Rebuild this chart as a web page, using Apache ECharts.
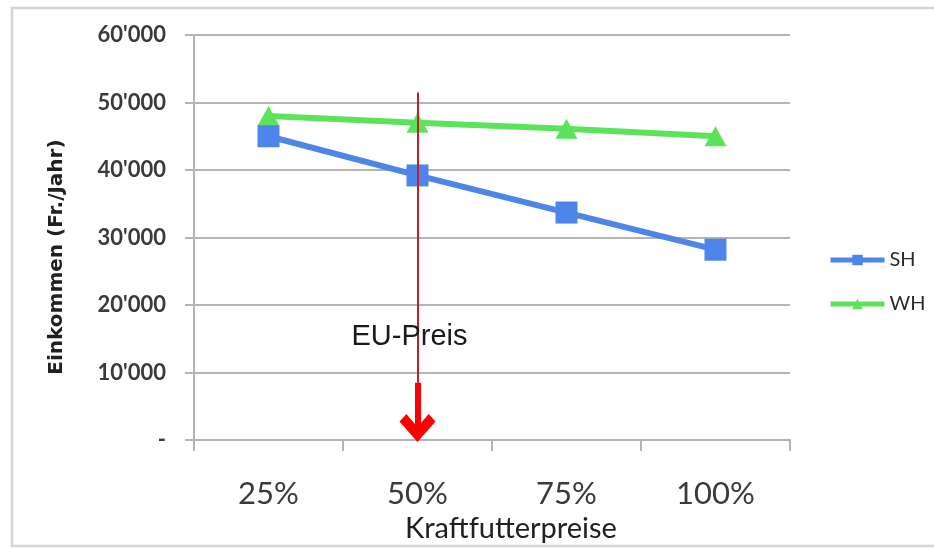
<!DOCTYPE html>
<html>
<head>
<meta charset="utf-8">
<script src="https://cdn.jsdelivr.net/npm/echarts@6/dist/echarts.min.js"></script>
<style>
  html, body { margin: 0; padding: 0; background: #ffffff; }
  #chart { width: 934px; height: 548px; }
</style>
</head>
<body>
<div id="chart"></div>
<script>
// Einkommen je Betriebstyp bei unterschiedlichen Kraftfutterpreisen
const categories = ['25%', '50%', '75%', '100%'];
const shValues = [45000, 39200, 33700, 28200];
const whValues = [48000, 47000, 46100, 45000];
const yTickLabels = ['-', "10'000", "20'000", "30'000", "40'000", "50'000", "60'000"];

// EU-Preis marker: category and value range of the arrow
const euCategory = '50%';
const euLineTop = 51500;
const euShaftTop = 8500;
const euArrowEnd = 1800;
const euLabelValue = 15300;

const axisGray = '#b4b4b4';
const textGray = '#3a3a3a';
const blue = '#4e85e8';
const green = '#5ce35c';

// upward-pointing chevron; the line symbol is rotated along the line
const chevron = 'path://M5,0 L10,5.2 L8.1,7.1 L5,3.8 L1.9,7.1 L0,5.2 Z';

const chart = echarts.init(document.getElementById('chart'), null, { renderer: 'canvas' });

chart.setOption({
  backgroundColor: '#ffffff',
  animation: false,
  graphic: [{
    type: 'rect',
    silent: true,
    z: -10,
    shape: { x: 12, y: 8, width: 960, height: 538 },
    style: { fill: 'none', stroke: '#d4d4d4', lineWidth: 2.5 }
  }],
  grid: { left: 194, right: 144, top: 35, bottom: 104, containLabel: false },
  legend: {
    data: ['SH', 'WH'],
    orient: 'vertical',
    left: 823,
    top: 245,
    itemWidth: 54,
    itemHeight: 13,
    itemGap: 24,
    lineStyle: { width: 5 },
    textStyle: { fontFamily: 'Lato', fontSize: 20, color: '#2a2a2a' }
  },
  xAxis: {
    type: 'category',
    data: categories,
    boundaryGap: true,
    axisLine: { lineStyle: { color: axisGray, width: 2 } },
    axisTick: { show: true, length: 11, inside: false, lineStyle: { color: axisGray, width: 2 } },
    axisLabel: { fontFamily: 'Lato', fontSize: 31, color: textGray, margin: 38 },
    splitLine: { show: false },
    name: 'Kraftfutterpreise',
    nameLocation: 'middle',
    nameGap: 72,
    nameTextStyle: { fontFamily: 'Lato', fontSize: 29, color: '#202020', padding: [0, 0, 0, 38] }
  },
  yAxis: {
    type: 'value',
    min: 0,
    max: 60000,
    interval: 10000,
    axisLine: { show: true, lineStyle: { color: axisGray, width: 2 } },
    axisTick: { show: true, length: 9, lineStyle: { color: axisGray, width: 2 } },
    splitLine: { show: true, lineStyle: { color: axisGray, width: 2 } },
    axisLabel: {
      fontFamily: 'Lato',
      fontWeight: 'bold',
      fontSize: 22,
      color: textGray,
      margin: 28,
      formatter: function (v) { return yTickLabels[Math.round(v / 10000)]; }
    },
    name: 'Einkommen (Fr./Jahr)',
    nameLocation: 'middle',
    nameGap: 127,
    nameTextStyle: {
      fontFamily: 'DejaVu Sans',
      fontWeight: 'bold',
      fontSize: 20,
      color: '#202020',
      padding: [0, 39, 0, 0]
    }
  },
  series: [
    {
      name: 'SH',
      type: 'line',
      data: shValues,
      symbol: 'rect',
      symbolSize: 22,
      itemStyle: { color: blue },
      lineStyle: { color: blue, width: 6 },
      z: 3,
      markPoint: {
        silent: true,
        symbol: 'circle',
        symbolSize: 0,
        data: [{ coord: [euCategory, euLabelValue] }],
        label: {
          show: true,
          formatter: 'EU-Preis',
          position: 'inside',
          offset: [-8, 0],
          fontFamily: 'Liberation Sans',
          fontSize: 29,
          color: '#1a1a1a'
        }
      }
    },
    {
      name: 'WH',
      type: 'line',
      data: whValues,
      symbol: 'triangle',
      symbolSize: [22, 20],
      itemStyle: { color: green },
      lineStyle: { color: green, width: 6 },
      z: 2
    },
    {
      name: 'EU-Preis',
      type: 'line',
      data: [],
      z: 10,
      markLine: {
        silent: true,
        animation: false,
        label: { show: false },
        data: [
          [
            { coord: [euCategory, euLineTop], symbol: 'none', lineStyle: { color: '#c41e2e', width: 2, type: 'solid' } },
            { coord: [euCategory, euShaftTop], symbol: 'none' }
          ],
          [
            { coord: [euCategory, euShaftTop], symbol: 'none', lineStyle: { color: '#ff0000', width: 6, type: 'solid' } },
            { coord: [euCategory, euArrowEnd], symbol: chevron, symbolSize: [36, 28] }
          ]
        ]
      }
    }
  ]
});
</script>
</body>
</html>
